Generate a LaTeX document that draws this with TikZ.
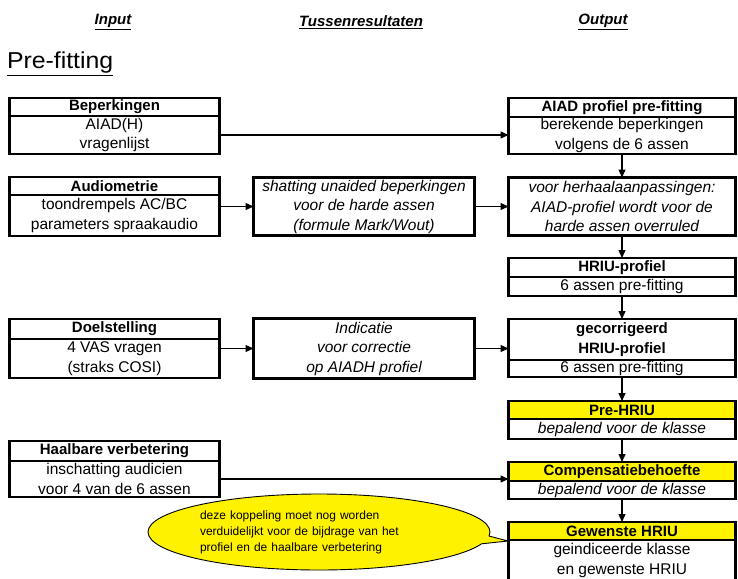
\documentclass[tikz,border=0pt]{standalone}
\usepackage{fontspec}
\setmainfont{Liberation Sans}
\usetikzlibrary{arrows.meta,shapes.callouts}
\begin{document}
\begin{tikzpicture}[x=1pt,y=-1pt,
  every node/.style={outer sep=0pt, inner sep=0pt},
  hd/.style={draw, line width=2.8pt, anchor=north west, align=center,
    font=\bfseries\fontsize{15}{20}\selectfont},
  bd/.style={draw, line width=2.8pt, anchor=north, align=center,
    font=\fontsize{15.5}{19.5}\selectfont},
  mid/.style={draw, line width=2.8pt, anchor=north west, align=center,
    minimum width=221pt, font=\itshape\fontsize{15.5}{19.5}\selectfont},
  arr/.style={line width=1.3pt, -{Triangle[length=8pt,width=7pt]}},
  colhead/.style={font=\bfseries\itshape\fontsize{15}{18}\selectfont},
  yel/.style={fill=yellow}
]
\useasboundingbox (0,0) rectangle (738,578);
\clip (0,0) rectangle (738,578);

% column headers
\node[colhead] (hin) at (113,22) {\underline{Input}};
\node[colhead] (htus) at (361,22) {\underline{Tussenresultaten}};
\node[colhead] (hout) at (603,22) {\underline{Output}};
\node[anchor=west, xscale=1.08, font=\fontsize{23}{26}\selectfont] (pre) at (7,64) {\underline{Pre-fitting}};

% left column
\node[hd, minimum width=210pt, minimum height=18pt] (bH) at (9.5,98) {Beperkingen};
\node[bd, minimum width=210pt, minimum height=38pt] (bB) at (bH.south) {AIAD(H)\\vragenlijst};

\node[hd, minimum width=210pt, minimum height=18pt] (aH) at (9.5,177) {Audiometrie};
\node[bd, minimum width=210pt, minimum height=41pt] (aB) at (aH.south) {toondrempels AC/BC\\parameters spraakaudio};

\node[hd, minimum width=210pt, minimum height=20pt] (dH) at (9.5,319) {Doelstelling};
\node[bd, minimum width=210pt, minimum height=39pt] (dB) at (dH.south) {4 VAS vragen\\(straks COSI)};

\node[hd, minimum width=210pt, minimum height=20pt] (vH) at (9.5,441) {Haalbare verbetering};
\node[bd, minimum width=210pt, minimum height=36pt] (vB) at (vH.south) {inschatting audicien\\voor 4 van de 6 assen};

% middle column
\node[mid, minimum height=58pt] (shat) at (253.5,177.5) {shatting unaided beperkingen\\voor de harde assen\\(formule Mark/Wout)};
\node[mid, minimum height=60pt] (ind) at (253.5,318.5) {Indicatie\\voor correctie\\op AIADH profiel};

% right column
\node[hd, minimum width=227pt, minimum height=19pt] (pH) at (508.5,98) {AIAD profiel pre-fitting};
\node[bd, minimum width=227pt, minimum height=37pt] (pB) at (pH.south) {berekende beperkingen\\volgens de 6 assen};

\node[draw, line width=2.8pt, anchor=north west, align=center, minimum width=227pt, minimum height=58pt,
  font=\itshape\fontsize{15.5}{19.5}\selectfont] (herh) at (508.5,177.5) {voor herhaalaanpassingen:\\AIAD-profiel wordt voor de\\harde assen overruled};

\node[hd, minimum width=227pt, minimum height=19pt] (rH) at (508.5,258) {HRIU-profiel};
\node[bd, minimum width=227pt, minimum height=19pt] (rB) at (rH.south) {6 assen pre-fitting};

\node[hd, minimum width=227pt, minimum height=41pt] (gH) at (508.5,319) {gecorrigeerd\\HRIU-profiel};
\node[bd, minimum width=227pt, minimum height=17pt] (gB) at (gH.south) {6 assen pre-fitting};

\node[hd, yel, minimum width=227pt, minimum height=18pt] (phH) at (508.5,401) {Pre-HRIU};
\node[bd, minimum width=227pt, minimum height=20pt, font=\itshape\fontsize{15.5}{19.5}\selectfont] (phB) at (phH.south) {bepalend voor de klasse};

\node[hd, yel, minimum width=227pt, minimum height=19pt] (cH) at (508.5,462) {Compensatiebehoefte};
\node[bd, minimum width=227pt, minimum height=18pt, font=\itshape\fontsize{15.5}{19.5}\selectfont] (cB) at (cH.south) {bepalend voor de klasse};

\node[hd, yel, minimum width=227pt, minimum height=18pt] (wH) at (508.5,522) {Gewenste HRIU};
\node[bd, minimum width=227pt, minimum height=41pt] (wB) at (wH.south) {geindiceerde klasse\\en gewenste HRIU};

% connectors
\draw[arr] (bB.east) -- (bB.east -| pB.west);
\draw[arr] (shat.west -| aB.east) -- (shat.west);
\draw[arr] (shat.east) -- (shat.east -| herh.west);
\draw[arr] (ind.west -| dB.east) -- (ind.west);
\draw[arr] (ind.east) -- (ind.east -| gH.west);
\draw[arr] (vB.east) -- (vB.east -| cH.west);

\draw[arr] (pB.south) -- (herh.north);
\draw[arr] (herh.south) -- (rH.north);
\draw[arr] (rB.south) -- (gH.north);
\draw[arr] (gB.south) -- (phH.north);
\draw[arr] (phB.south) -- (cH.north);
\draw[arr] (cB.south) -- (wH.north);

% callout
\coordinate (tip) at (508,541);
\node[ellipse callout, draw, line width=0.9pt, fill=yellow, minimum width=342pt, minimum height=76pt,
  callout absolute pointer={(tip)}, callout pointer arc=12,
  align=left, text width=238pt, font=\fontsize{12}{16}\selectfont] (note) at (319,532)
  {deze koppeling moet nog worden\\verduidelijkt voor de bijdrage van het\\profiel en de haalbare verbetering};
\end{tikzpicture}
\end{document}
